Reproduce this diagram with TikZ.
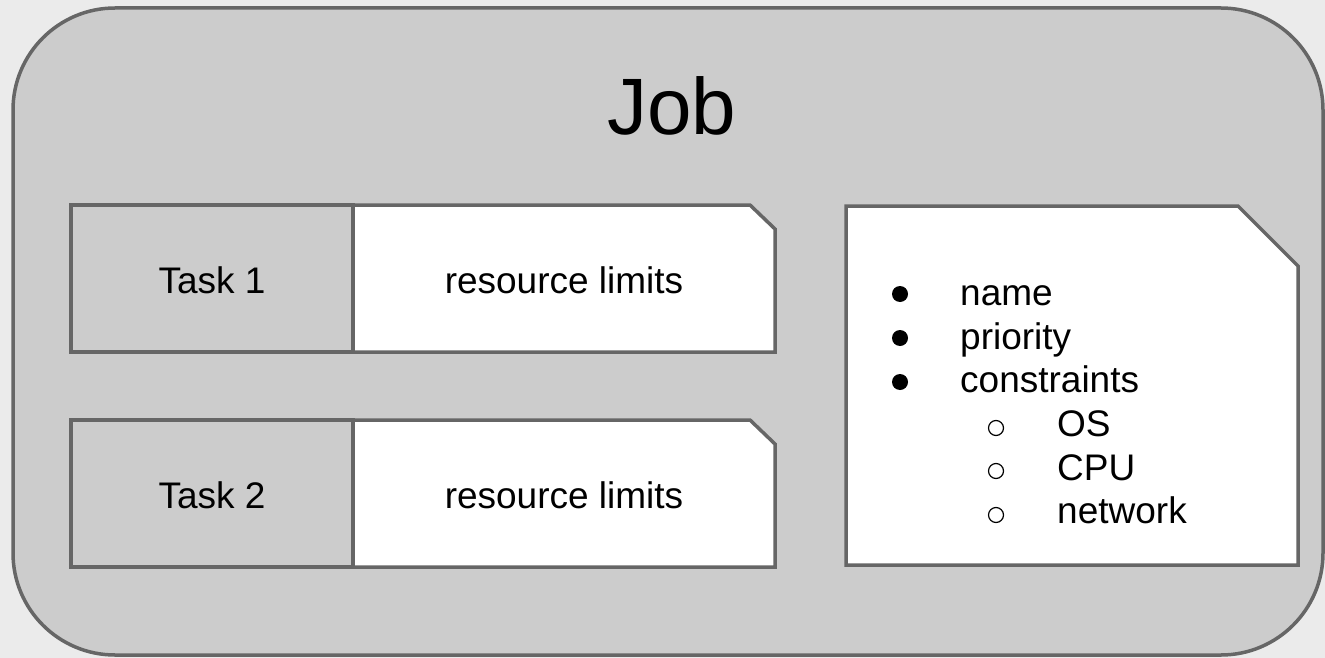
\documentclass[tikz,border=0pt]{standalone}
\usepackage{fontspec}
\setmainfont{Liberation Sans}
\definecolor{bg}{HTML}{EBEBEB}
\definecolor{panel}{HTML}{CCCCCC}
\definecolor{edge}{HTML}{666666}
\tikzset{
  outline/.style={draw=edge, line width=3.5pt, line join=miter},
  lbl/.style={font=\fontsize{37}{44}\selectfont, text=black, inner sep=0pt},
  item/.style={font=\fontsize{37}{44}\selectfont, text=black, inner sep=0pt, anchor=base west},
  dot/.style={circle, fill=black, inner sep=0pt, minimum size=16pt},
  odot/.style={circle, draw=black, line width=1.2pt, fill=white, inner sep=0pt, minimum size=15pt},
}
\begin{document}
\begin{tikzpicture}[x=1pt,y=-1pt]
\fill[bg] (0,0) rectangle (1325,658);
\useasboundingbox (0,0) rectangle (1325,658);
% outer job container
\draw[outline, fill=panel, rounded corners=102pt] (13,8) rectangle (1323,655);
\node[font=\fontsize{80}{90}\selectfont, inner sep=0pt, anchor=base] (job) at (672,135) {Job};
% Task 1
\draw[outline, fill=panel] (71,205) rectangle (353,352);
\draw[outline, fill=white] (353,205) -- (750,205) -- (775,229) -- (775,352) -- (353,352) -- cycle;
\node[lbl] (t1) at (212,280) {Task 1};
\node[lbl] (r1) at (564,280) {resource limits};
% Task 2
\draw[outline, fill=panel] (71,420) rectangle (353,567);
\draw[outline, fill=white] (353,420) -- (750,420) -- (775,444) -- (775,567) -- (353,567) -- cycle;
\node[lbl] (t2) at (212,495) {Task 2};
\node[lbl] (r2) at (564,495) {resource limits};
% Job attributes
\draw[outline, fill=white] (846,206) -- (1238,206) -- (1298,266) -- (1298,565) -- (846,565) -- cycle;
\node[dot] (b1) at (900,294) {};
\node[dot] (b2) at (900,338) {};
\node[dot] (b3) at (900,382) {};
\node[odot] (c1) at (996,428) {};
\node[odot] (c2) at (996,471) {};
\node[odot] (c3) at (996,515) {};
\node[item] (i1) at (960,305) {name};
\node[item] (i2) at (960,349) {priority};
\node[item] (i3) at (960,392) {constraints};
\node[item] (i4) at (1057,436) {OS};
\node[item] (i5) at (1057,480) {CPU};
\node[item] (i6) at (1057,523) {network};
\end{tikzpicture}
\end{document}
